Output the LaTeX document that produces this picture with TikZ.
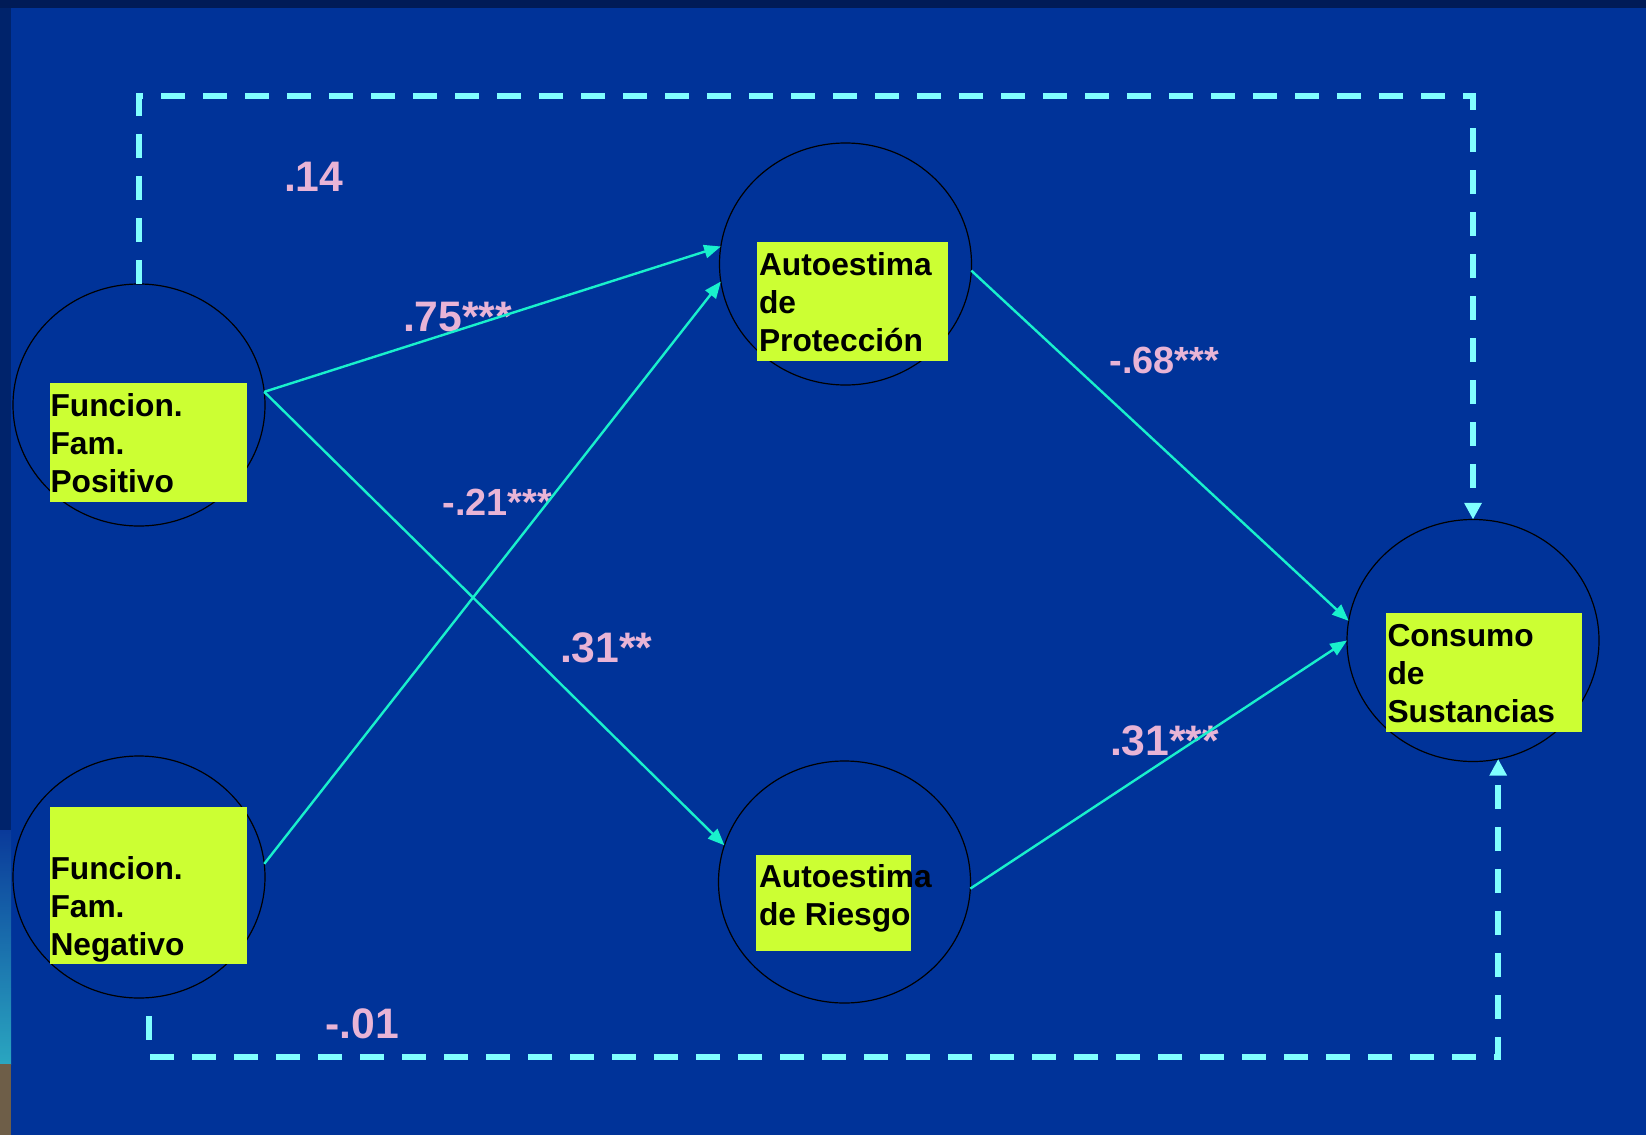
\documentclass[tikz,border=0pt]{standalone}
\usepackage{fontspec}
\setmainfont{Liberation Sans}
\usetikzlibrary{shapes.geometric,arrows.meta,fit}
\definecolor{bg}{HTML}{003399}
\definecolor{topstrip}{HTML}{001B57}
\definecolor{leftstrip}{HTML}{00236B}
\definecolor{stripmid}{HTML}{0A3A9A}
\definecolor{stripteal}{HTML}{2AA6C0}
\definecolor{stripbrown}{HTML}{6E5E48}
\definecolor{boxfill}{HTML}{CCFF33}
\definecolor{lbl}{HTML}{E8B4D6}
\definecolor{arrowc}{HTML}{19F0CC}
\definecolor{dashc}{HTML}{80FFFF}
\begin{document}
\begin{tikzpicture}[x=0.75pt,y=-0.75pt,
  latent/.style={ellipse,draw=black,line width=0.9pt,minimum width=189pt,minimum height=181.5pt,inner sep=0pt,outer sep=0pt},
  vbox/.style={fill=boxfill,draw=none,inner sep=0pt,outer sep=0pt},
  vtext/.style={anchor=base west,inner sep=0pt,outer sep=0pt,text=black,font=\fontsize{23.8pt}{28.35pt}\selectfont\bfseries},
  coef/.style={anchor=base west,inner sep=0pt,outer sep=0pt,text=lbl,font=\fontsize{32pt}{38pt}\selectfont\bfseries},
  coefsmall/.style={coef,font=\fontsize{28.4pt}{34pt}\selectfont\bfseries},
  link/.style={draw=arrowc,line width=1.8pt,-{Triangle[length=12.5pt,width=10pt]}},
  dlink/.style={draw=dashc,line width=4.1pt,dash pattern=on 18pt off 13.5pt,-{Triangle[length=12.5pt,width=12.5pt]}}
]
\useasboundingbox (0,0) rectangle (1646,1135);
% background
\fill[bg] (0,0) rectangle (1646,1135);
\fill[leftstrip] (0,0) rectangle (11,830);
\shade[top color=stripmid,bottom color=stripteal] (0,830) rectangle (11,1064);
\fill[stripbrown] (0,1064) rectangle (11,1135);
\fill[topstrip] (0,0) rectangle (1646,8);

% latent variables
\node[latent] (ffp) at (139,405) {};
\node[latent] (ffn) at (139,877) {};
\node[latent] (ap) at (845.5,264) {};
\node[latent] (ar) at (844.5,882) {};
\node[latent] (cs) at (1473,640.5) {};

% dashed connectors
\coordinate (bstart) at (149,1016);
\draw[dlink] (ffp.north) -- ++(0,-188) -| (cs.north);
\draw[dlink] (bstart) -- ++(0,41) -| (cs.282.4);

% label boxes
\node[vbox,fit={(50,383) (247,502)}] (bffp) {};
\node[vbox,fit={(50,807) (247,964)}] (bffn) {};
\node[vbox,fit={(757,242) (948,361)}] (bap) {};
\node[vbox,fit={(756,855) (911,951)}] (bar) {};
\node[vbox,fit={(1386,613) (1582,732)}] (bcs) {};

\node[vtext] (tffp) at (50.5,492) {\begin{tabular}[b]{@{}l@{}}Funcion.\\Fam.\\Positivo\end{tabular}};
\node[vtext] (tffn) at (50.5,955.5) {\begin{tabular}[b]{@{}l@{}}Funcion.\\Fam.\\Negativo\end{tabular}};
\node[vtext] (tap) at (759,351) {\begin{tabular}[b]{@{}l@{}}Autoestima\\de\\Protección\end{tabular}};
\node[vtext] (tar) at (759,925.7) {\begin{tabular}[b]{@{}l@{}}Autoestima\\de Riesgo\end{tabular}};
\node[vtext] (tcs) at (1387.5,722) {\begin{tabular}[b]{@{}l@{}}Consumo\\de\\Sustancias\end{tabular}};

% coefficients
\node[coef] (c14) at (284,191.7) {.14};
\node[coef] (c01) at (325.7,1038.7) {-.01};
\node[coef] (c75) at (403,331.7) {.75***};
\node[coefsmall] (c21) at (442.7,515) {-.21***};
\node[coef] (c31a) at (560,662) {.31**};
\node[coefsmall] (c68) at (1109.7,373) {-.68***};
\node[coef] (c31b) at (1110,755.5) {.31***};

% solid paths
\draw[link] (ffp.6) -- (ap.172);
\draw[link] (ffp.6) -- (ar.163);
\draw[link] (ffn.6) -- (ap.188.5);
\draw[link] (ap.357.3) -- (cs.171.4);
\draw[link] (ar.357.4) -- (cs.180);
\end{tikzpicture}
\end{document}
